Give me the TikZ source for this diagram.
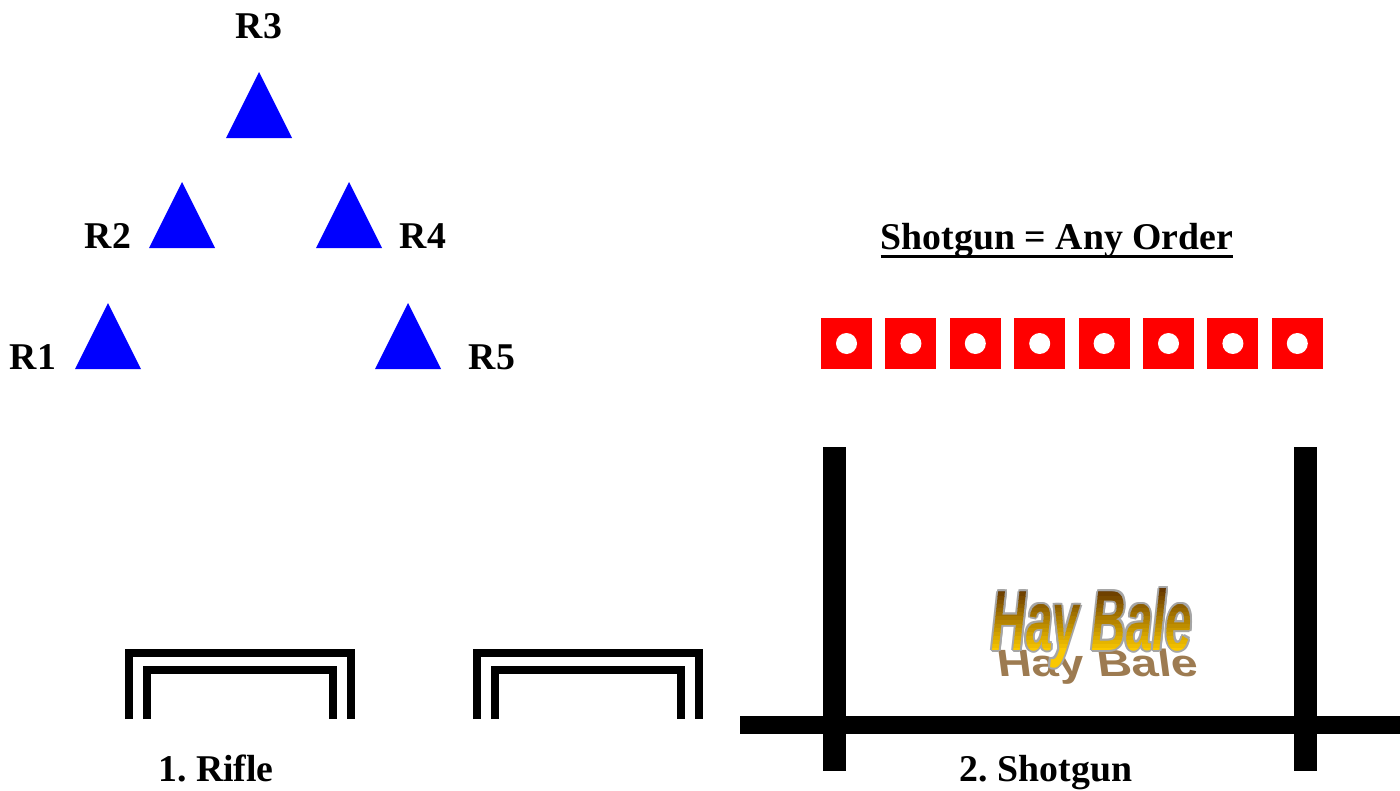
\documentclass[tikz,border=0pt]{standalone}
\usepackage{fontspec}
\setmainfont{Liberation Serif}
\newfontfamily\wordart{Liberation Sans}
\usetikzlibrary{positioning}

\definecolor{hayDark}{RGB}{92,46,0}
\definecolor{hayGold}{RGB}{250,200,0}
\definecolor{hayShadow}{RGB}{140,100,50}
\definecolor{hayEdge}{RGB}{165,165,165}

\begin{document}
\frenchspacing
\begin{tikzpicture}[
    x=0.02cm, y=-0.02cm,
    node distance=0.2cm,
    lbl/.style={
        font=\bfseries\fontsize{21.5}{24}\selectfont,
        inner sep=0pt
    },
    tri/.style={
        fill={rgb,255:red,0;green,0;blue,255}
    },
    barr/.style={
        line width=0.16cm,
        line join=miter
    },
    post/.style={
        fill=black
    },
    hay/.style={
        font=\wordart\bfseries\itshape\fontsize{27}{30}\selectfont,
        inner sep=0pt
    }
]
\useasboundingbox (0,0) rectangle (1400,791);

% rifle targets
\foreach \name/\x/\y in {R1/108/303, R2/182/182, R3/259/72, R4/349/182, R5/408/303}
    \fill[tri] (\x,\y) coordinate (\name) -- ++(33,66) -- ++(-66,0) -- cycle;

\node[lbl, anchor=base] (r3lbl) at (259,38) {R3};
\node[lbl, anchor=base] (r2lbl) at (108,248) {R2};
\node[lbl, anchor=base] (r4lbl) at (423,248) {R4};
\node[lbl, anchor=base] (r1lbl) at (33,369) {R1};
\node[lbl, anchor=base] (r5lbl) at (492,369) {R5};

% shotgun targets
\node[lbl, anchor=base] (title) at (1057,249) {Shotgun = Any Order};
\draw[line width=0.06cm] ([yshift=-0.14cm]title.base west) -- ([yshift=-0.14cm]title.base east);

\foreach \i in {0,...,7} {
    \fill[red] ({821+64.4*\i},318) rectangle ++(51,51);
    \fill[white] ({846.5+64.4*\i},343.5) circle[radius=0.21cm];
}

% rifle barricades
\foreach \dx in {0,348} {
    \draw[barr] (129+\dx,719) -- (129+\dx,652.5) -- (351+\dx,652.5) -- (351+\dx,719);
    \draw[barr] (147+\dx,719) -- (147+\dx,670) -- (332.5+\dx,670) -- (332.5+\dx,719);
}

% shotgun stand
\fill[post] (823,447) rectangle (846,771);
\fill[post] (1294,447) rectangle (1317,771);
\fill[post] (740,716) rectangle (1400,734);

% hay bale word art
\node[hay, text=hayShadow, opacity=0.85, yscale=0.8, xslant=-0.3] (hayshadow) at (1098,667) {Hay Bale};
\foreach \dx/\dy [count=\k] in {2/0, -2/0, 0/2, 0/-2, 1.5/1.5, -1.5/1.5, 1.5/-1.5, -1.5/-1.5}
    \node[hay, text=hayEdge, yscale=1.8] (hayedge\k) at (1092+\dx,628+\dy) {Hay Bale};
\foreach \i in {0,...,16} {
    \pgfmathtruncatemacro\p{100*\i/16}
    \begin{scope}
        \clip (975,{584+4*\i}) rectangle (1209,{ifthenelse(\i==16,680,588+4*\i)});
        \node[hay, text=hayGold!\p!hayDark, yscale=1.8] (hayband\i) at (1092,628) {Hay Bale};
    \end{scope}
}

\node[lbl, anchor=base] (rifle) at (216,781) {1. Rifle};
\node[lbl, anchor=base] (shotgun) at (1046,781) {2. Shotgun};
\end{tikzpicture}
\end{document}
